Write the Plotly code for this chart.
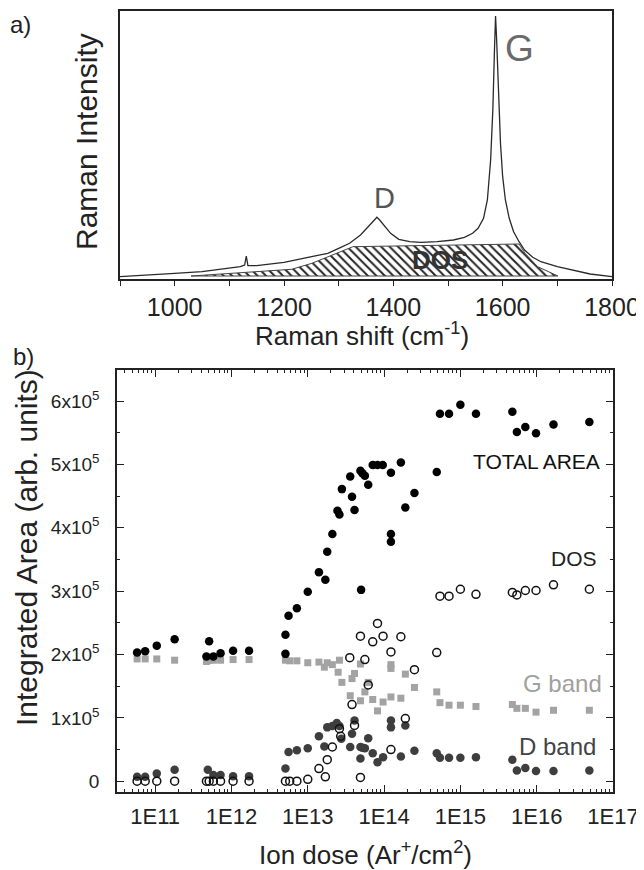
import plotly.graph_objects as go

# ---------------- Panel a: Raman spectrum ----------------
raman_shift = [900, 950, 1000, 1050, 1100, 1120, 1128, 1131, 1134, 1150, 1200, 1250, 1280,
               1300, 1320, 1340, 1355, 1365, 1370, 1375, 1385, 1395, 1410, 1430, 1450, 1480,
               1510, 1530, 1545, 1555, 1565, 1572, 1578, 1582, 1585, 1587, 1589, 1592, 1596,
               1600, 1605, 1612, 1620, 1630, 1640, 1655, 1670, 1700, 1730, 1760, 1800]
raman_int = [23, 37, 57, 73, 107, 123, 140, 230, 133, 133, 167, 223, 257,
             307, 357, 440, 530, 597, 617, 590, 523, 457, 397, 373, 367, 373,
             390, 417, 457, 507, 607, 790, 1190, 1690, 2290, 2630, 2390, 1857, 1357,
             1023, 790, 607, 473, 373, 290, 217, 173, 123, 83, 50, 23]

dos_shift = [1030, 1131, 1214, 1251, 1296, 1326, 1630, 1641, 1664, 1701, 1030]
dos_int = [30, 63, 97, 157, 257, 323, 350, 257, 123, 30, 30]

# ---------------- Panel b: integrated areas (units of 1e5) ----------------
total_dose = [5.8e10, 7.4e10, 1.05e11, 1.8e11, 4.7e11, 5.1e11, 5.8e11, 7.2e11, 1.05e12, 1.7e12,
              5.1e12, 5.1e12, 5.6e12, 7.2e12, 1.0e13, 1.4e13, 1.7e13, 1.8e13, 2.1e13, 2.45e13,
              2.6e13, 2.8e13, 3.6e13, 3.8e13, 4.1e13, 4.9e13, 5.0e13, 5.2e13, 5.6e13, 6.2e13,
              7.1e13, 8.2e13, 9.6e13, 1.23e14, 1.23e14, 1.23e14, 1.66e14, 1.9e14, 2.5e14, 4.9e14,
              5.4e14, 7.1e14, 1.0e15, 1.6e15, 4.8e15, 5.5e15, 7.1e15, 9.8e15, 1.66e16, 4.9e16]
total_area = [2.03, 2.05, 2.14, 2.24, 1.97, 2.21, 1.97, 2.02, 2.06, 2.06,
              2.01, 2.31, 2.61, 2.73, 2.99, 3.30, 3.18, 3.62, 3.90, 4.27,
              4.21, 4.61, 4.81, 4.49, 4.28, 4.90, 3.02, 4.86, 4.82, 4.68,
              4.99, 4.99, 4.99, 4.87, 3.90, 3.78, 5.03, 4.32, 4.55, 4.88,
              5.80, 5.80, 5.94, 5.80, 5.83, 5.51, 5.59, 5.49, 5.63, 5.67]

dos_dose = [5.8e10, 7.4e10, 1.05e11, 1.8e11, 4.7e11, 5.1e11, 5.8e11, 7.2e11, 1.05e12, 1.7e12,
            5.1e12, 5.8e12, 7.2e12, 1.0e13, 1.4e13, 1.7e13, 1.8e13, 2.1e13, 2.6e13, 2.7e13,
            3.55e13, 3.8e13, 4.1e13, 4.9e13, 4.9e13, 5.6e13, 6.2e13, 7.1e13, 8.2e13, 9.7e13,
            1.23e14, 1.23e14, 1.66e14, 1.9e14, 2.5e14, 4.9e14, 5.4e14, 7.1e14, 1.0e15, 1.6e15,
            4.8e15, 5.5e15, 7.1e15, 9.8e15, 1.66e16, 4.9e16]
dos_area = [0.0, 0.0, 0.0, 0.0, 0.0, 0.0, 0.0, 0.0, 0.0, 0.0,
            0.0, 0.0, 0.0, 0.03, 0.20, 0.07, 0.34, 0.54, 0.83, 0.71,
            1.95, 1.21, 0.88, 2.29, 0.06, 1.92, 1.52, 2.20, 2.49, 2.29,
            2.04, 0.50, 2.28, 0.99, 1.76, 2.03, 2.92, 2.92, 3.03, 2.95,
            2.98, 2.94, 3.01, 3.01, 3.10, 3.03]

g_dose = [5.8e10, 7.4e10, 1.05e11, 1.8e11, 4.7e11, 5.1e11, 5.8e11, 7.2e11, 1.05e12, 1.7e12,
          5.1e12, 5.8e12, 7.2e12, 1.0e13, 1.4e13, 1.65e13, 1.8e13, 2.1e13, 2.5e13, 2.6e13,
          2.8e13, 3.6e13, 3.8e13, 4.1e13, 4.9e13, 4.9e13, 5.6e13, 6.2e13, 7.1e13, 8.2e13,
          9.7e13, 1.23e14, 1.23e14, 1.23e14, 1.66e14, 1.9e14, 2.5e14, 4.9e14, 5.4e14, 7.1e14,
          1.0e15, 1.6e15, 4.8e15, 5.5e15, 7.1e15, 9.8e15, 1.66e16, 4.9e16]
g_area = [1.93, 1.93, 1.93, 1.91, 1.89, 1.91, 1.91, 1.91, 1.92, 1.92,
          1.91, 1.90, 1.90, 1.87, 1.88, 1.80, 1.87, 1.84, 1.72, 1.91,
          1.56, 1.35, 1.62, 1.70, 1.85, 1.27, 1.41, 1.56, 1.29, 1.11,
          1.25, 1.84, 1.78, 1.33, 1.31, 1.69, 1.48, 1.41, 1.24, 1.20,
          1.20, 1.18, 1.21, 1.15, 1.15, 1.09, 1.12, 1.12]

d_dose = [5.8e10, 7.4e10, 1.05e11, 1.8e11, 4.9e11, 5.8e11, 7.2e11, 1.05e12, 1.7e12,
          5.1e12, 5.6e12, 7.2e12, 1.0e13, 1.4e13, 1.65e13, 1.8e13, 2.1e13, 2.4e13, 2.6e13,
          2.75e13, 3.6e13, 3.8e13, 4.1e13, 4.9e13, 4.9e13, 5.2e13, 5.6e13, 6.2e13, 7.1e13,
          8.2e13, 9.7e13, 1.23e14, 1.23e14, 1.66e14, 1.9e14, 2.5e14, 4.9e14, 5.4e14, 7.1e14,
          1.0e15, 1.6e15, 4.8e15, 5.5e15, 7.1e15, 9.8e15, 1.66e16, 4.9e16]
d_area = [0.07, 0.07, 0.12, 0.18, 0.18, 0.10, 0.10, 0.08, 0.08,
          0.20, 0.46, 0.49, 0.52, 0.71, 0.55, 0.85, 0.87, 0.92, 0.87,
          0.67, 0.54, 0.75, 0.96, 0.54, 0.36, 0.53, 0.52, 0.68, 0.44,
          0.30, 0.38, 0.96, 0.85, 0.39, 0.88, 0.48, 0.44, 0.37, 0.37,
          0.37, 0.38, 0.34, 0.17, 0.21, 0.16, 0.16, 0.17]

dose_tick_vals = [1e11, 1e12, 1e13, 1e14, 1e15, 1e16, 1e17]
dose_tick_text = ["1E11", "1E12", "1E13", "1E14", "1E15", "1E16", "1E17"]
area_tick_vals = [0, 1, 2, 3, 4, 5, 6]
area_tick_text = ["0", "1x10<sup>5</sup>", "2x10<sup>5</sup>", "3x10<sup>5</sup>",
                  "4x10<sup>5</sup>", "5x10<sup>5</sup>", "6x10<sup>5</sup>"]

FONT = "Liberation Sans, Arial, sans-serif"
W, H = 644, 870
OX, OY = 8, 8          # page body margin: figure origin sits 8 px inside the window
INK = "#222222"


def fx(px):
    return (px - OX) / W


def fy(py):
    return 1 - (py - OY) / H


fig = go.Figure()

# Panel a
fig.add_trace(go.Scatter(x=dos_shift, y=dos_int, mode="lines", fill="toself",
                         fillcolor="white",
                         fillpattern=dict(shape="\\", size=6, solidity=0.32,
                                          fgcolor="#222222", bgcolor="white"),
                         line=dict(color="#444444", width=1),
                         xaxis="x", yaxis="y", showlegend=False, hoverinfo="skip"))
fig.add_trace(go.Scatter(x=raman_shift, y=raman_int, mode="lines",
                         line=dict(color="#2a2a2a", width=1.3),
                         xaxis="x", yaxis="y", showlegend=False))

# Panel b
fig.add_trace(go.Scatter(x=g_dose, y=g_area, mode="markers",
                         marker=dict(symbol="square", size=7, color="#a3a3a3"),
                         xaxis="x2", yaxis="y2", showlegend=False))
fig.add_trace(go.Scatter(x=d_dose, y=d_area, mode="markers",
                         marker=dict(symbol="circle", size=8.5, color="#3e3e3e"),
                         xaxis="x2", yaxis="y2", showlegend=False))
fig.add_trace(go.Scatter(x=dos_dose, y=dos_area, mode="markers",
                         marker=dict(symbol="circle-open", size=8, color="#111111",
                                     line=dict(width=1.5)),
                         xaxis="x2", yaxis="y2", showlegend=False))
fig.add_trace(go.Scatter(x=total_dose, y=total_area, mode="markers",
                         marker=dict(symbol="circle", size=8.5, color="#000000"),
                         xaxis="x2", yaxis="y2", showlegend=False))

base = dict(showline=True, linecolor=INK, linewidth=1.5, showgrid=False, automargin=False,
            zeroline=False, tickcolor=INK, tickwidth=1.2)

minor_dose = [m * 10.0 ** e for e in range(10, 17) for m in range(2, 10)]

fig.update_layout(
    template="none",
    width=W, height=H,
    margin=dict(l=0, r=0, t=0, b=0, pad=0, autoexpand=False),
    paper_bgcolor="white", plot_bgcolor="white",
    font=dict(family=FONT, color=INK),
    showlegend=False,
    xaxis=dict(domain=[fx(120), fx(612)], anchor="y", range=[900, 1800],
               tickmode="array", tickvals=[1000, 1200, 1400, 1600, 1800],
               ticks="outside", ticklen=5, mirror=True,
               tickfont=dict(family=FONT, size=25, color=INK),
               minor=dict(ticks="outside", ticklen=5, tickmode="array",
                          tickvals=[900, 1100, 1300, 1500, 1700],
                          tickcolor=INK, tickwidth=1.2),
               **base),
    yaxis=dict(domain=[fy(279), fy(11)], anchor="x", range=[0, 2680],
               showticklabels=False, ticks="", mirror=True, **base),
    xaxis2=dict(domain=[fx(117), fx(613)], anchor="y2", type="log", range=[10.5, 17.0],
                tickmode="array", tickvals=dose_tick_vals, ticktext=dose_tick_text,
                ticks="inside", ticklen=7, mirror="allticks", ticklabelstandoff=4,
                tickfont=dict(family=FONT, size=22, color=INK),
                minor=dict(ticks="inside", ticklen=3.5, tickmode="array",
                           tickvals=minor_dose, tickcolor=INK, tickwidth=1.1),
                **base),
    yaxis2=dict(domain=[fy(792), fy(370)], anchor="x2", range=[-0.17, 6.49],
                tickmode="array", tickvals=area_tick_vals, ticktext=area_tick_text,
                ticks="inside", ticklen=7, mirror="allticks", ticklabelstandoff=12,
                tickfont=dict(family=FONT, size=19, color=INK),
                minor=dict(ticks="inside", ticklen=3.5, dtick=0.5, tick0=0,
                           tickcolor=INK, tickwidth=1.1),
                **base),
)


def pann(text, px, py, size, color=INK, angle=0):
    fig.add_annotation(text=text, x=fx(px), y=fy(py), xref="paper", yref="paper",
                       showarrow=False, xanchor="center", yanchor="middle", textangle=angle,
                       font=dict(family=FONT, size=size, color=color))


pann("a)", 20, 24, 24)
pann("b)", 23, 356, 24)
pann("Raman Intensity", 86, 142, 30, angle=-90)
pann("Raman shift (cm<sup>-1</sup>)", 362, 334, 26)
pann("Integrated Area (arb. units)", 26, 548, 30, angle=-90)
pann("Ion dose (Ar<sup>+</sup>/cm<sup>2</sup>)", 365, 853, 26)
pann("TOTAL AREA", 536, 461, 21, "#111111")
pann("DOS", 574, 558, 21, INK)
pann("G band", 562, 683, 24, "#a0a0a0")
pann("D band", 557, 746, 24, "#444444")

fig.add_annotation(text="D", x=1384, y=815, xref="x", yref="y", showarrow=False,
                   font=dict(family=FONT, size=29, color="#555555"))
fig.add_annotation(text="G", x=1631, y=2310, xref="x", yref="y", showarrow=False,
                   font=dict(family=FONT, size=37, color="#6a6a6a"))
fig.add_annotation(text="<b>DOS</b>", x=1485, y=190, xref="x", yref="y", showarrow=False,
                   font=dict(family=FONT, size=26, color="#333333"))

fig.write_html("out.html")
